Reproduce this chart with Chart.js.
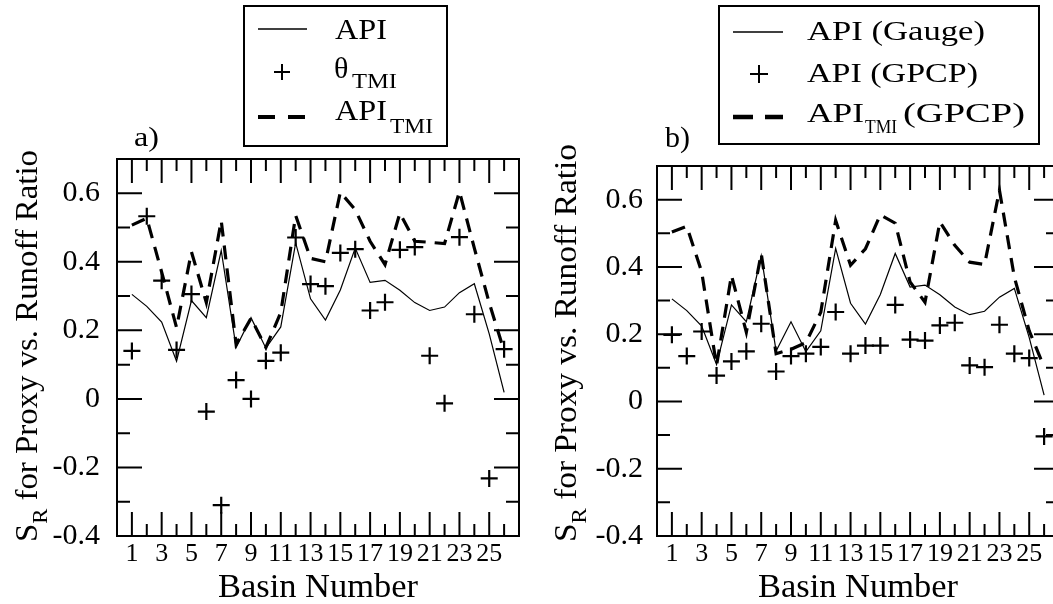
<!DOCTYPE html>
<html>
<head>
<meta charset="utf-8">
<script src="https://cdn.jsdelivr.net/npm/chart.js@4.4.1/dist/chart.umd.min.js"></script>
<style>
  html, body { margin: 0; padding: 0; background: #fff; width: 1053px; height: 604px; overflow: hidden; position: relative; }
  canvas { position: absolute; top: 0; }
  #panelA { left: 0; }
  #panelB { left: 540px; }
  svg { position: absolute; left: 0; top: 0; }
  svg text { font-family: "Liberation Serif", "Times New Roman", serif; fill: #000; }
</style>
</head>
<body>
<canvas id="panelA" width="540" height="604"></canvas>
<canvas id="panelB" width="540" height="604"></canvas>

<svg width="1053" height="604" viewBox="0 0 1053 604">
  <!-- legend a -->
  <rect x="244" y="6" width="203" height="140" fill="none" stroke="#000" stroke-width="2"/>
  <line x1="258" y1="29" x2="307" y2="29" stroke="#000" stroke-width="1.5"/>
  <text x="335" y="39" font-size="30" textLength="52" lengthAdjust="spacingAndGlyphs">API</text>
  <path d="M274 72H290M282 64V80" stroke="#000" stroke-width="2"/>
  <text x="334" y="78" font-size="30">θ</text>
  <text x="352" y="88" font-size="20" textLength="45" lengthAdjust="spacingAndGlyphs">TMI</text>
  <line x1="258" y1="117" x2="307" y2="117" stroke="#000" stroke-width="4" stroke-dasharray="17 13"/>
  <text x="335" y="120" font-size="30" textLength="52" lengthAdjust="spacingAndGlyphs">API</text>
  <text x="390" y="133" font-size="20" textLength="43" lengthAdjust="spacingAndGlyphs">TMI</text>

  <!-- legend b -->
  <rect x="719" y="6" width="320" height="138" fill="none" stroke="#000" stroke-width="2"/>
  <line x1="733" y1="32" x2="783" y2="32" stroke="#000" stroke-width="1.5"/>
  <text x="807" y="40" font-size="28" textLength="178" lengthAdjust="spacingAndGlyphs">API (Gauge)</text>
  <path d="M750 74H768M759 65V83" stroke="#000" stroke-width="2"/>
  <text x="807" y="82" font-size="28" textLength="171" lengthAdjust="spacingAndGlyphs">API (GPCP)</text>
  <line x1="733" y1="117" x2="783" y2="117" stroke="#000" stroke-width="4.5" stroke-dasharray="20 12"/>
  <text x="807" y="122" font-size="28" textLength="57" lengthAdjust="spacingAndGlyphs">API</text>
  <text x="865" y="133" font-size="19" textLength="32" lengthAdjust="spacingAndGlyphs">TMI</text>
  <text x="903" y="122" font-size="28" textLength="122" lengthAdjust="spacingAndGlyphs">(GPCP)</text>

  <!-- panel letters -->
  <text x="134" y="146" font-size="28" textLength="25" lengthAdjust="spacingAndGlyphs">a)</text>
  <text x="665" y="147" font-size="29" textLength="25" lengthAdjust="spacingAndGlyphs">b)</text>

  <!-- y titles -->
  <text transform="translate(37,542) rotate(-90)" font-size="32" textLength="392" lengthAdjust="spacingAndGlyphs">S<tspan font-size="22" dy="10">R</tspan><tspan dy="-10"> for Proxy vs. Runoff Ratio</tspan></text>
  <text transform="translate(576,542) rotate(-90)" font-size="32" textLength="398" lengthAdjust="spacingAndGlyphs">S<tspan font-size="22" dy="10">R</tspan><tspan dy="-10"> for Proxy vs. Runoff Ratio</tspan></text>

  <!-- x titles -->
  <text x="318" y="597" font-size="33" text-anchor="middle" textLength="200" lengthAdjust="spacingAndGlyphs">Basin Number</text>
  <text x="858" y="597" font-size="33" text-anchor="middle" textLength="200" lengthAdjust="spacingAndGlyphs">Basin Number</text>
</svg>

<script>
// values, basin 1..26
const basins = [1, 2, 3, 4, 5, 6, 7, 8, 9, 10, 11, 12, 13, 14, 15, 16, 17, 18, 19, 20, 21, 22, 23, 24, 25, 26];

// solid line, same series in both panels
const apiGauge = [0.305, 0.27, 0.224, 0.11, 0.287, 0.237, 0.433, 0.15, 0.237, 0.148, 0.21, 0.455, 0.292,
                  0.23, 0.318, 0.44, 0.34, 0.346, 0.317, 0.281, 0.258, 0.268, 0.31, 0.336, 0.19, 0.019];

// panel a
const thetaTmi = [0.14, 0.533, 0.345, 0.143, 0.306, -0.037, -0.31, 0.055, 0.0, 0.111, 0.135, 0.471, 0.335,
                  0.329, 0.426, 0.437, 0.258, 0.282, 0.435, 0.443, 0.126, -0.013, 0.472, 0.247, -0.232, 0.145];
const apiTmi = [0.507, 0.527, 0.37, 0.208, 0.429, 0.281, 0.52, 0.159, 0.235, 0.15, 0.252, 0.535, 0.41,
                0.40, 0.603, 0.552, 0.46, 0.392, 0.542, 0.46, 0.457, 0.453, 0.605, 0.44, 0.28, 0.14];

// panel b
const apiGpcp = [0.198, 0.135, 0.208, 0.077, 0.119, 0.149, 0.231, 0.089, 0.135, 0.142, 0.162, 0.266, 0.142,
                 0.166, 0.166, 0.287, 0.184, 0.181, 0.226, 0.234, 0.107, 0.102, 0.228, 0.142, 0.129, -0.104];
const apiTmiGpcp = [0.504, 0.521, 0.385, 0.107, 0.375, 0.206, 0.44, 0.142, 0.155, 0.175, 0.265, 0.538, 0.405,
                    0.454, 0.555, 0.53, 0.355, 0.295, 0.534, 0.464, 0.414, 0.407, 0.628, 0.37, 0.21, 0.102];

const FONT = "'Liberation Serif', 'Times New Roman', serif";
const pts = (vals) => basins.map((b, i) => ({ x: b, y: vals[i] }));

// box frame + inward tick marks on all four sides
const frameTicks = {
  id: "frameTicks",
  beforeDatasetsDraw(chart) {
    const { ctx, chartArea: a, scales: { x, y } } = chart;
    ctx.save();
    ctx.strokeStyle = "#000";
    ctx.lineWidth = 2;
    ctx.strokeRect(a.left, a.top, a.right - a.left, a.bottom - a.top);
    ctx.beginPath();
    x.ticks.forEach((t) => {
      const v = Math.round(t.value);
      if (v <= 0 || v >= 27) return;
      const px = x.getPixelForValue(v);
      const len = v % 2 ? 24 : 12;
      ctx.moveTo(px, a.bottom); ctx.lineTo(px, a.bottom - len);
      ctx.moveTo(px, a.top); ctx.lineTo(px, a.top + len);
    });
    y.ticks.forEach((t) => {
      const k = Math.round(t.value * 10);
      if (k <= -4 || k >= 7) return;
      const py = y.getPixelForValue(k / 10);
      const len = k % 2 === 0 ? 25 : 13;
      ctx.moveTo(a.left, py); ctx.lineTo(a.left + len, py);
      ctx.moveTo(a.right, py); ctx.lineTo(a.right - len, py);
    });
    ctx.stroke();
    ctx.restore();
  },
};

const solid = (vals) => ({ data: pts(vals), borderColor: "#000", borderWidth: 1.2, pointRadius: 0, pointHoverRadius: 0, tension: 0, fill: false });
const dashed = (vals) => ({ data: pts(vals), borderColor: "#000", borderWidth: 3.2, borderDash: [14, 9], pointRadius: 0, pointHoverRadius: 0, tension: 0, fill: false });
const crosses = (vals) => ({ data: pts(vals), showLine: false, pointStyle: "cross", pointRadius: 8.5, pointHoverRadius: 8.5,
                             pointBorderWidth: 2.2, pointBorderColor: "#000", borderColor: "#000" });

function panel(id, top, labelPad, datasets) {
  return new Chart(document.getElementById(id), {
    type: "line",
    data: { datasets },
    options: {
      responsive: false, animation: false, events: [],
      layout: { padding: { top, right: 21, left: 0, bottom: 0 } },
      plugins: { legend: { display: false }, tooltip: { enabled: false } },
      scales: {
        x: {
          type: "linear", min: 0, max: 27,
          grid: { display: false, drawTicks: false }, border: { display: false },
          afterFit: (s) => { s.height = 68; },
          ticks: {
            stepSize: 1, autoSkip: false, maxRotation: 0, minRotation: 0, padding: 3,
            color: "#000", font: { family: FONT, size: 26 },
            callback: (v) => (v % 2 === 1 && v <= 25 ? String(v) : ""),
          },
        },
        y: {
          min: -0.4, max: 0.7,
          grid: { display: false, drawTicks: false }, border: { display: false },
          afterFit: (s) => { s.width = 117; },
          ticks: {
            stepSize: 0.1, autoSkip: false, padding: labelPad,
            color: "#000", font: { family: FONT, size: 30 },
            callback: (v) => {
              const k = Math.round(v * 10);
              if (k % 2 !== 0 || k > 6) return "";
              return k === 0 ? "0" : (k / 10).toFixed(1);
            },
          },
        },
      },
    },
    plugins: [frameTicks],
  });
}

function drawAll() {
  panel("panelA", 159, 17, [solid(apiGauge), crosses(thetaTmi), dashed(apiTmi)]);
  panel("panelB", 166, 14, [solid(apiGauge), crosses(apiGpcp), dashed(apiTmiGpcp)]);
}

// make sure the serif face is ready before the canvas text is drawn
const fontReady = document.fonts && document.fonts.load
  ? Promise.all([document.fonts.load("30px 'Liberation Serif'"), document.fonts.load("26px 'Liberation Serif'")])
  : Promise.resolve();
fontReady.catch(() => {}).then(drawAll);
</script>
</body>
</html>
